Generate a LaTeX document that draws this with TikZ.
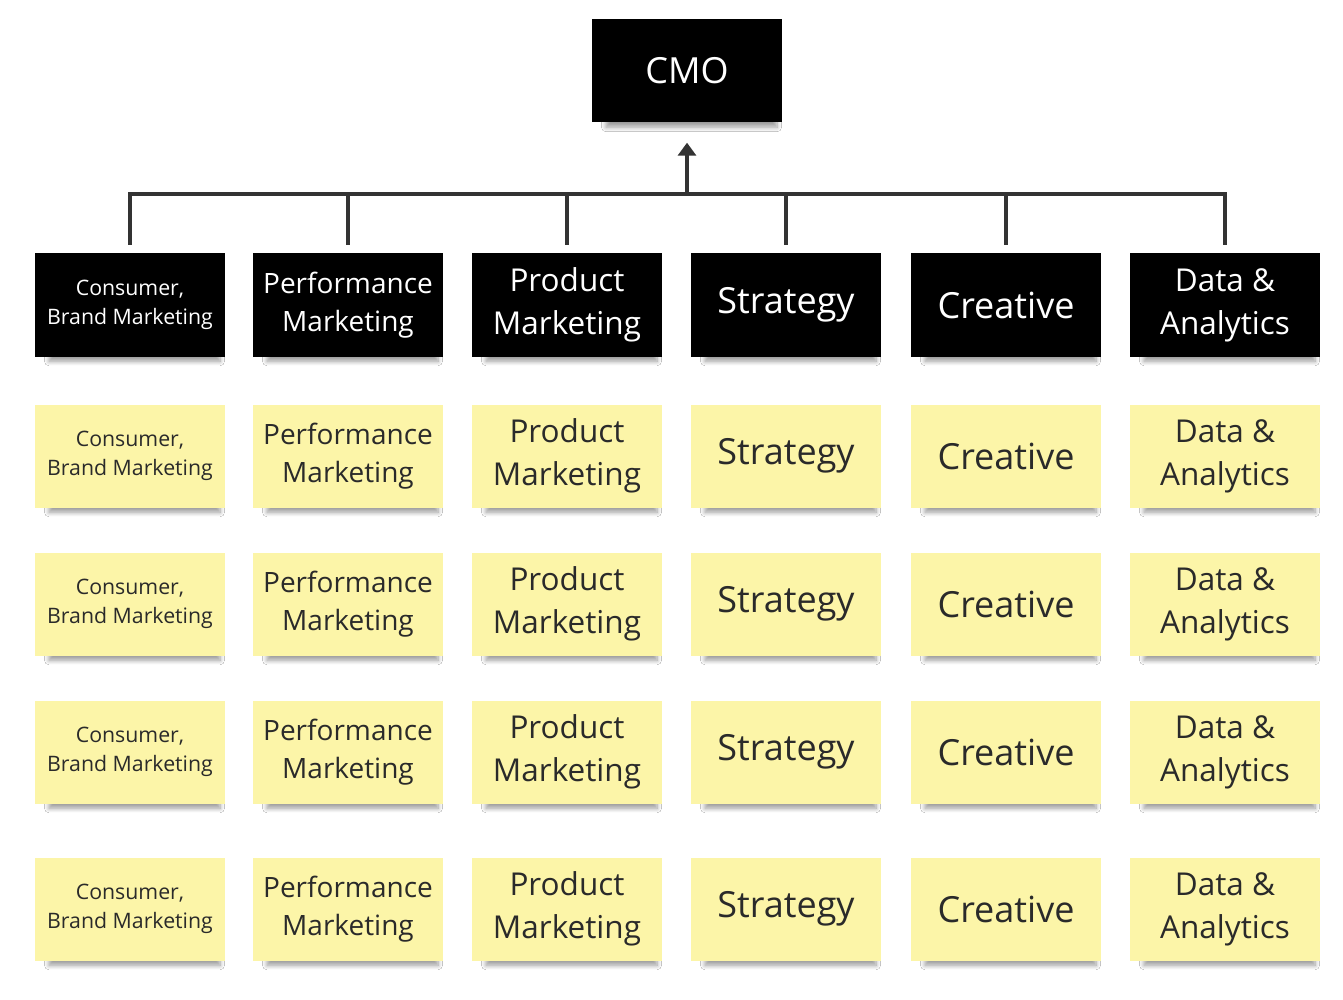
\documentclass[tikz,border=0pt]{standalone}
\usepackage{fontspec}
\setmainfont{Open Sans}
\usetikzlibrary{arrows.meta,shadows,shadows.blur}
\definecolor{sticky}{HTML}{FCF5A8}
\definecolor{linegray}{HTML}{333333}
\definecolor{txtdark}{HTML}{2A2A2A}
\tikzset{
  card/.style={minimum width=190pt, minimum height=103pt, inner sep=0pt, align=center,
    blur shadow={shadow xshift=5pt, shadow yshift=-11pt, shadow scale=0.9, shadow blur steps=8, shadow opacity=40, shadow blur radius=5pt}},
  darkcard/.style={card, fill=black, text=white},
  yellowcard/.style={card, fill=sticky, text=txtdark},
  perf/.style={font=\fontsize{28}{38}\selectfont},
  prod/.style={font=\fontsize{31.5}{43}\selectfont},
  single/.style={font=\fontsize{36}{43}\selectfont},
  small/.style={font=\fontsize{21.3}{29.5}\selectfont},
  conn/.style={draw=linegray, line width=4pt},
}
\begin{document}
\begin{tikzpicture}[x=1pt,y=-1pt]
\useasboundingbox[fill=white] (0,0) rectangle (1343,1000);
\node[darkcard, font=\fontsize{36}{42}\selectfont] (cmo) at (687,71) {CMO};
\coordinate (hub) at (687,194);
\foreach \i/\x in {1/130,2/348,3/567,4/786,5/1006,6/1225}{
  \coordinate (c\i) at (\x,194);
}
\foreach \r/\y/\sty in {0/305/darkcard,1/456/yellowcard,2/604/yellowcard,3/752/yellowcard,4/909/yellowcard}{
  \node[\sty, small] (n\r-1) at (130,\y) {Consumer,\\Brand Marketing};
  \node[\sty, perf] (n\r-2) at (348,\y) {Performance\\Marketing};
  \node[\sty, prod] (n\r-3) at (567,\y) {Product\\Marketing};
  \node[\sty, single] (n\r-4) at (786,\y) {Strategy};
  \node[\sty, single] (n\r-5) at (1006,\y) {Creative};
  \node[\sty, prod] (n\r-6) at (1225,\y) {Data \&\\Analytics};
}
\draw[conn, line cap=rect] (c1) -- (c6);
\foreach \i in {1,...,6}{
  \draw[conn] (c\i) -- ([yshift=8pt]n0-\i.north);
}
\draw[conn, -{Triangle[length=13pt,width=18pt]}] (hub) -- ([yshift=-20pt]cmo.south);
\end{tikzpicture}
\end{document}
